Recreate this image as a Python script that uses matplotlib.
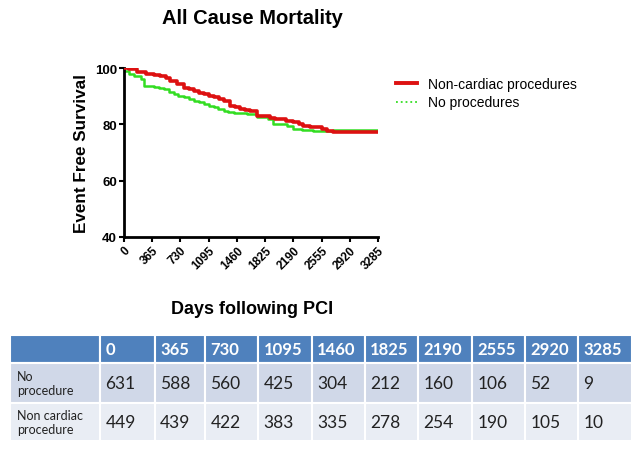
import matplotlib.pyplot as plt
from matplotlib.lines import Line2D

# Kaplan-Meier curves
t_noncard = [0, 60, 172, 290, 386, 472, 540, 601, 680, 773, 840, 902, 970, 1031, 1100, 1159,
             1230, 1288, 1374, 1440, 1503, 1560, 1632, 1718, 1800, 1889, 1950, 2018, 2100,
             2190, 2260, 2319, 2400, 2491, 2560, 2619, 2705, 3285]
s_noncard = [100, 99.5, 98.5, 98.0, 97.6, 97.0, 96.3, 95.5, 94.3, 93.0, 92.5, 92.0, 91.3,
             90.7, 90.1, 89.6, 89.0, 88.4, 86.6, 86.0, 85.4, 85.0, 84.6, 83.0, 82.8, 82.4,
             82.0, 81.8, 81.3, 80.7, 80.1, 79.5, 79.2, 78.9, 78.2, 77.5, 77.2, 77.2]
t_noproc = [0, 60, 130, 215, 258, 386, 450, 515, 580, 644, 700, 773, 840, 902, 970, 1031,
            1100, 1159, 1220, 1288, 1350, 1417, 1589, 1718, 1868, 1932, 2104, 2190, 2300,
            2448, 2700, 3285]
s_noproc = [98.8, 98.0, 97.0, 96.0, 93.7, 93.4, 93.0, 92.5, 91.6, 90.7, 90.1, 89.6, 89.0,
            88.4, 87.8, 87.2, 86.6, 86.0, 85.4, 84.8, 84.3, 83.9, 83.6, 82.7, 81.8, 80.0,
            79.5, 78.3, 78.0, 77.7, 77.9, 77.9]

x_ticks = [0, 365, 730, 1095, 1460, 1825, 2190, 2555, 2920, 3285]
y_ticks = [40, 60, 80, 100]

# number at risk table
col_labels = ['', '0', '365', '730', '1095', '1460', '1825', '2190', '2555', '2920', '3285']
row_labels = ['No\nprocedure', 'Non cardiac\nprocedure']
at_risk_noproc = [631, 588, 560, 425, 304, 212, 160, 106, 52, 9]
at_risk_noncard = [449, 439, 422, 383, 335, 278, 254, 190, 105, 10]

plt.rcParams['font.family'] = ['Liberation Sans', 'DejaVu Sans']

fig = plt.figure(figsize=(6.42, 4.6), dpi=100)
ax = fig.add_axes([124 / 642, 1 - 238 / 460, 254 / 642, 169 / 460])

ax.step(t_noproc, s_noproc, where='post', color='#33dd22', lw=1.8, zorder=2)
ax.step(t_noncard, s_noncard, where='post', color='#dd1111', lw=2.6, zorder=3)

ax.set_xlim(0, 3285)
ax.set_ylim(40, 100)
ax.set_xticks(x_ticks)
ax.set_yticks(y_ticks)
ax.set_xticklabels([str(x) for x in x_ticks], rotation=45, ha='right',
                   rotation_mode='anchor', fontsize=8.5, fontweight='bold')
ax.set_yticklabels([str(y) for y in y_ticks], fontsize=9.5, fontweight='bold')
for s in ['top', 'right']:
    ax.spines[s].set_visible(False)
for s in ['left', 'bottom']:
    ax.spines[s].set_linewidth(2)
ax.tick_params(width=1.5, length=3.5, pad=1.5)
ax.set_ylabel('Event Free Survival', fontsize=12.3, fontweight='bold', labelpad=4)

handles = [Line2D([], [], color='#dd1111', lw=2.8),
           Line2D([], [], color='#33dd22', lw=1.3, ls=':')]
fig.legend(handles, ['Non-cardiac procedures', 'No procedures'],
           loc='upper left', bbox_to_anchor=(384 / 642, 1 - 65 / 460), frameon=False,
           fontsize=10, handlelength=1.5, handletextpad=0.8, labelspacing=0.35)

fig.text(252 / 642, 1 - 18 / 460, 'All Cause Mortality', ha='center', va='center',
         fontsize=14.5, fontweight='bold')
fig.text(252 / 642, 1 - 309 / 460, 'Days following PCI', ha='center', va='center',
         fontsize=13, fontweight='bold')

# table
tax = fig.add_axes([10 / 642, 1 - 442 / 460, 622 / 642, 106 / 460])
tax.axis('off')
cells = [[row_labels[0]] + [str(v) for v in at_risk_noproc],
         [row_labels[1]] + [str(v) for v in at_risk_noncard]]
widths = [90, 55, 50, 53, 54, 53, 53, 54, 53, 53, 54]
tbl = tax.table(cellText=cells, colLabels=col_labels, colWidths=[w / 622 for w in widths],
                cellLoc='left', colLoc='left', bbox=[0, 0, 1, 1])
tbl.auto_set_font_size(False)
heights = [28, 40, 38]
fills = ['#4f81bd', '#d0d8e8', '#e9edf4']
for (r, c), cell in tbl.get_celld().items():
    cell.set_height(heights[r] / 106)
    cell.set_facecolor(fills[r])
    cell.set_edgecolor('white')
    cell.set_linewidth(1.5)
    cell.PAD = 0.08 if c == 0 else 0.1
    txt = cell.get_text()
    txt.set_fontfamily(['Lato', 'DejaVu Sans'])
    if r == 0:
        txt.set_color('white')
        txt.set_fontweight('bold')
        txt.set_fontsize(12)
    elif c == 0:
        txt.set_fontsize(9)
        txt.set_color('#222222')
    else:
        txt.set_fontsize(12.5)
        txt.set_color('#222222')

fig.savefig('out.png', dpi=100)
